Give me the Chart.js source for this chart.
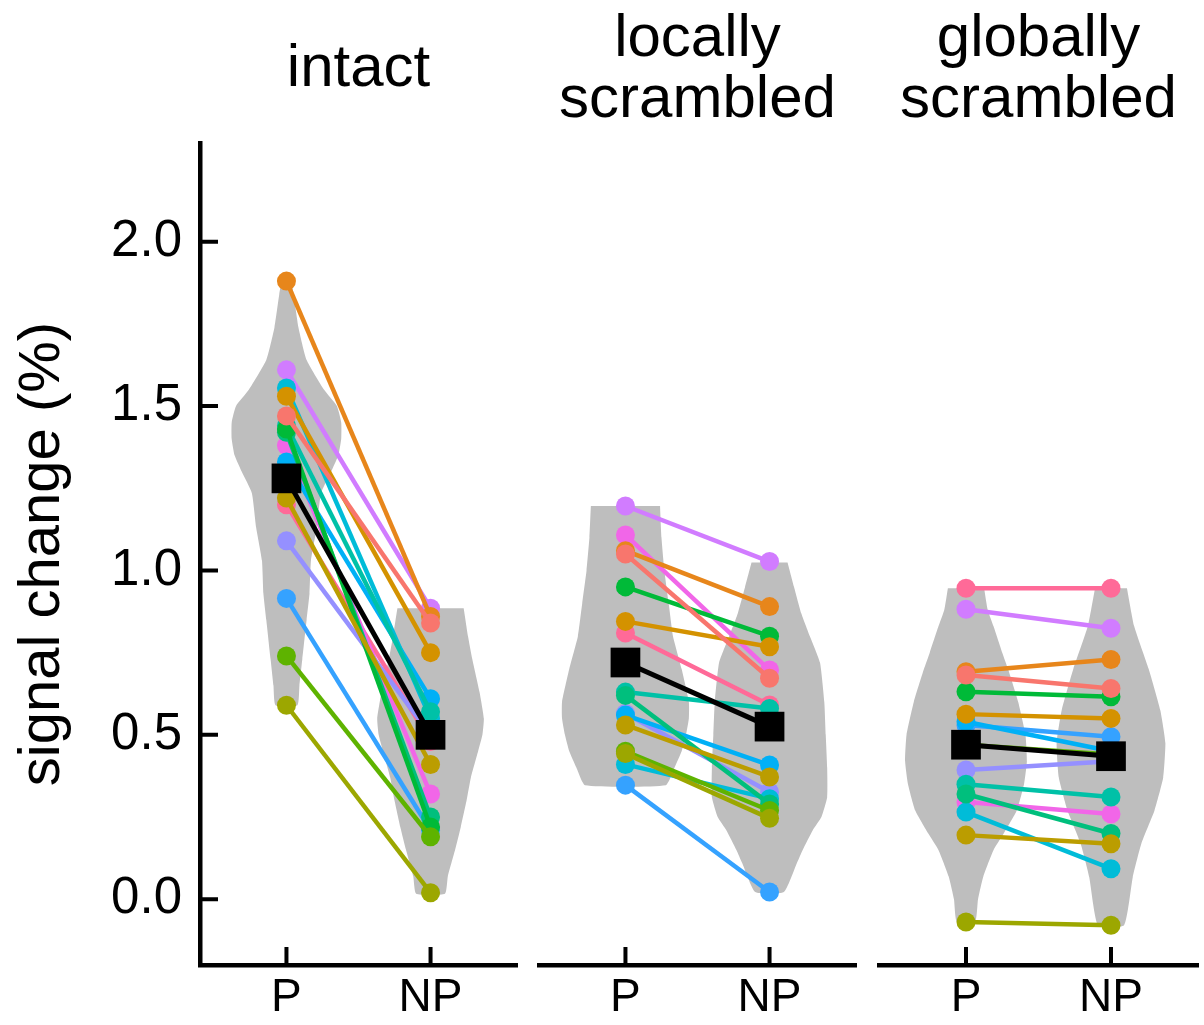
<!DOCTYPE html>
<html>
<head>
<meta charset="utf-8">
<title>signal change</title>
<script src="https://cdn.jsdelivr.net/npm/chart.js@4.4.0/dist/chart.umd.min.js"></script>
<style>
  body { margin: 0; background: #fff; }
  #wrap { position: relative; width: 1204px; height: 1025px; }
  canvas { position: absolute; top: 0; }
</style>
</head>
<body>
<div id="wrap">
  <canvas id="panel0" width="530" height="1025" style="left:0px"></canvas>
  <canvas id="panel1" width="340" height="1025" style="left:530px"></canvas>
  <canvas id="panel2" width="334" height="1025" style="left:870px"></canvas>
</div>
<script>
// panel titles, x categories, y ticks
const conditions = [['intact'], ['locally', 'scrambled'], ['globally', 'scrambled']];
const xLabels = ['P', 'NP'];
const yTicks = [0, 0.5, 1.0, 1.5, 2.0];
const yTitle = 'signal change (%)';

// one colour per subject
const subjectColors = [
  '#F8766D', '#E7861B', '#D49200', '#BB9D00', '#9CA700', '#5EB300', '#00BA38', '#00BF7D',
  '#00C1A7', '#00BCD8', '#00B0F6', '#35A2FF', '#9590FF', '#D17CFF', '#F166E8', '#FF6A98'
];

// per-subject values, same subject order as the colours
const intactP  = [1.47, 1.88, 1.53, 1.22, 0.59, 0.74, 1.43, 1.42, 1.44, 1.555, 1.33, 0.915, 1.09, 1.61, 1.38, 1.20];
const intactNP = [0.84, 0.86, 0.75, 0.41, 0.02, 0.19, 0.22, 0.25, 0.57, 0.55, 0.61, 0.21, 0.50, 0.885, 0.32, 0.48];
const localP   = [1.05, 1.06, 0.845, 0.53, 0.443, 0.45, 0.95, 0.62, 0.63, 0.41, 0.56, 0.347, 0.565, 1.196, 1.108, 0.81];
const localNP  = [0.672, 0.89, 0.768, 0.372, 0.246, 0.27, 0.80, 0.29, 0.58, 0.306, 0.408, 0.022, 0.326, 1.027, 0.697, 0.591];
const globalP  = [0.682, 0.692, 0.563, 0.195, -0.069, 0.47, 0.631, 0.32, 0.35, 0.265, 0.54, 0.53, 0.393, 0.882, 0.296, 0.946];
const globalNP = [0.641, 0.729, 0.550, 0.169, -0.079, 0.44, 0.616, 0.20, 0.311, 0.093, 0.45, 0.494, 0.42, 0.824, 0.259, 0.946];

// group means
const meanP  = [1.28, 0.72, 0.47];
const meanNP = [0.50, 0.525, 0.435];

// violin outlines: [value, half width in category units]
const violinIntactP = [[1.88, 0.035], [1.84, 0.05], [1.74, 0.083], [1.64, 0.14], [1.55, 0.26], [1.50, 0.35], [1.45, 0.38],
  [1.40, 0.38], [1.35, 0.36], [1.30, 0.31], [1.235, 0.24], [1.13, 0.21], [1.03, 0.17], [0.93, 0.16], [0.85, 0.14],
  [0.73, 0.11], [0.65, 0.09], [0.59, 0.076]];
const violinIntactNP = [[0.885, 0.23], [0.80, 0.26], [0.73, 0.29], [0.63, 0.34], [0.55, 0.37], [0.50, 0.36], [0.45, 0.33],
  [0.37, 0.28], [0.30, 0.25], [0.22, 0.21], [0.15, 0.17], [0.07, 0.12], [0.017, 0.10]];
const violinLocalP = [[1.196, 0.24], [1.10, 0.25], [1.00, 0.27], [0.90, 0.30], [0.80, 0.33], [0.70, 0.39], [0.60, 0.44],
  [0.55, 0.44], [0.50, 0.42], [0.45, 0.39], [0.40, 0.34], [0.347, 0.28]];
const violinLocalNP = [[1.024, 0.125], [0.95, 0.17], [0.87, 0.22], [0.80, 0.28], [0.72, 0.35], [0.60, 0.38], [0.50, 0.39],
  [0.40, 0.40], [0.31, 0.40], [0.25, 0.36], [0.21, 0.30], [0.15, 0.23], [0.11, 0.19], [0.022, 0.10]];
const violinGlobalP = [[0.946, 0.125], [0.88, 0.15], [0.83, 0.19], [0.75, 0.25], [0.70, 0.29], [0.60, 0.36], [0.50, 0.41],
  [0.42, 0.42], [0.35, 0.40], [0.27, 0.35], [0.20, 0.26], [0.15, 0.19], [0.07, 0.12], [0.0, 0.083], [-0.069, 0.063]];
const violinGlobalNP = [[0.946, 0.11], [0.83, 0.16], [0.70, 0.26], [0.575, 0.34], [0.475, 0.375], [0.37, 0.36], [0.27, 0.30],
  [0.17, 0.21], [0.067, 0.15], [-0.079, 0.09]];

const panelP = [intactP, localP, globalP];
const panelNP = [intactNP, localNP, globalNP];
const panelViolins = [[violinIntactP, violinIntactNP], [violinLocalP, violinLocalNP], [violinGlobalP, violinGlobalNP]];

Chart.defaults.font.family = "'Liberation Sans', Arial, sans-serif";
Chart.defaults.color = '#000';

// ticks pointing into the plot, like the original
const innerTicks = {
  id: 'innerTicks',
  beforeDatasetsDraw(chart, args, opts) {
    const { ctx, chartArea, scales } = chart;
    ctx.save();
    ctx.strokeStyle = '#000';
    ctx.lineWidth = 4;
    ctx.beginPath();
    scales.x.ticks.forEach(t => {
      const px = scales.x.getPixelForValue(t.value);
      ctx.moveTo(px, chartArea.bottom);
      ctx.lineTo(px, chartArea.bottom - 18);
    });
    if (opts.showY) {
      scales.y.ticks.forEach(t => {
        const py = scales.y.getPixelForValue(t.value);
        ctx.moveTo(chartArea.left, py);
        ctx.lineTo(chartArea.left + 18, py);
      });
    }
    ctx.stroke();
    ctx.restore();
  }
};

function violinShape(profile, center) {
  const right = profile.map(([v, w]) => ({ x: center + w, y: v }));
  const left = profile.slice().reverse().map(([v, w]) => ({ x: center - w, y: v }));
  return right.concat(left);
}

const boxes = [
  { padL: 0, padR: 13 },
  { padL: 9, padR: 14 },
  { padL: 9, padR: 6 }
];

conditions.forEach((title, p) => {
  const datasets = [];

  datasets.push({
    data: [{ x: 0, y: meanP[p] }, { x: 1, y: meanNP[p] }],
    showLine: true,
    borderColor: '#000',
    backgroundColor: '#000',
    borderWidth: 5,
    pointStyle: 'rect',
    pointRadius: 21,
    pointBorderWidth: 0,
    order: 0
  });

  subjectColors.forEach((c, i) => {
    datasets.push({
      data: [{ x: 0, y: panelP[p][i] }, { x: 1, y: panelNP[p][i] }],
      showLine: true,
      borderColor: c,
      backgroundColor: c,
      borderWidth: 4.5,
      pointRadius: 9.5,
      pointBorderWidth: 0,
      order: 1
    });
  });

  panelViolins[p].forEach((profile, k) => {
    datasets.push({
      data: violinShape(profile, k),
      showLine: true,
      fill: 'shape',
      borderWidth: 0,
      borderColor: '#BEBEBE',
      backgroundColor: '#BEBEBE',
      pointRadius: 0,
      tension: 0.15,
      order: 2
    });
  });

  const twoLines = title.length > 1;

  new Chart(document.getElementById('panel' + p), {
    type: 'scatter',
    data: { datasets },
    plugins: [innerTicks],
    options: {
      responsive: false,
      animation: false,
      devicePixelRatio: 1,
      layout: {
        autoPadding: false,
        padding: { left: boxes[p].padL, right: boxes[p].padR, top: 0, bottom: 0 }
      },
      plugins: {
        legend: { display: false },
        tooltip: { enabled: false },
        innerTicks: { showY: p === 0 },
        title: {
          display: true,
          text: title,
          fullSize: false,
          color: '#000',
          font: { size: 60, weight: 'normal', lineHeight: 61 / 60 },
          padding: twoLines ? { top: 9, bottom: 12 } : { top: 38.5, bottom: 43.5 }
        }
      },
      scales: {
        x: {
          type: 'linear',
          min: -0.6,
          max: 1.6,
          afterBuildTicks: s => { s.ticks = xLabels.map((_, i) => ({ value: i })); },
          afterFit: s => { s.height = 60; s.paddingLeft = 0; s.paddingRight = 0; },
          grid: { display: false, drawTicks: false },
          border: { display: true, color: '#000', width: 4.5 },
          ticks: {
            font: { size: 46 },
            color: '#000',
            padding: 6,
            autoSkip: false,
            maxRotation: 0,
            callback: v => xLabels[v]
          }
        },
        y: {
          type: 'linear',
          display: p === 0,
          min: -0.2,
          max: 2.3,
          afterBuildTicks: s => { s.ticks = yTicks.map(v => ({ value: v })); },
          afterFit: s => {
            s.width = p === 0 ? 200 : 0;
            s.paddingTop = 0;
            s.paddingBottom = 0;
          },
          grid: { display: false, drawTicks: false },
          border: { display: true, color: '#000', width: 4.5 },
          ticks: {
            font: { size: 51 },
            color: '#000',
            padding: 18,
            callback: v => v.toFixed(1)
          },
          title: {
            display: true,
            text: yTitle,
            color: '#000',
            font: { size: 58 },
            padding: { top: 8, bottom: 0 }
          }
        }
      }
    }
  });
});
</script>
</body>
</html>
